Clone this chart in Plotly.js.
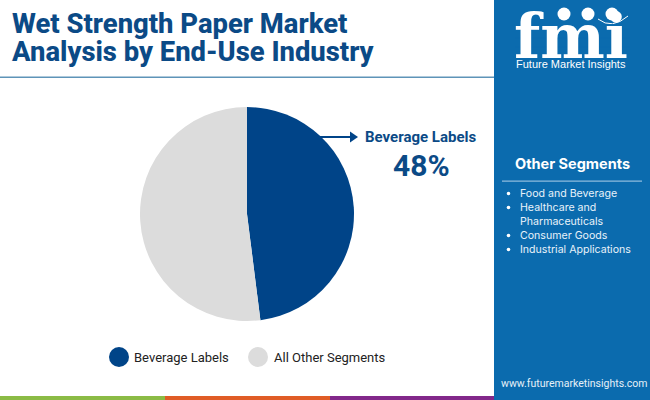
<!DOCTYPE html>
<html><head><meta charset="utf-8">
<script src="https://cdn.plot.ly/plotly-3.0.1.min.js"></script>
<style>html,body{margin:0;padding:0;background:#fff}#c{width:650px;height:400px}</style></head>
<body><div id="c"></div>
<script>
const categories = ["Beverage Labels", "All Other Segments"];
const shares = [48, 52];
const sliceColors = ["#004488", "#DCDCDC"];
const titleLines = ["Wet Strength Paper Market", "Analysis by End-Use Industry"];
const sideItems = ["Food and Beverage", "Healthcare and", "Pharmaceuticals", "Consumer Goods", "Industrial Applications"];
const W = 650, H = 400;
const px = v => v / W, py = v => 1 - v / H;
const rect = (x0, y0, x1, y1, color, layer) => ({type:"rect", xref:"paper", yref:"paper", layer:layer||"below",
  x0:px(x0), x1:px(x1), y0:py(y1), y1:py(y0), fillcolor:color, line:{width:0}});
const oval = (cx, cy, rx, ry, color) => ({type:"circle", xref:"paper", yref:"paper", layer:"above",
  x0:px(cx-rx), x1:px(cx+rx), y0:py(cy+ry), y1:py(cy-ry), fillcolor:color, line:{width:0}});
const txt = (x, y, text, size, color, family, anchor, weight) => ({xref:"paper", yref:"paper",
  x:px(x), y:py(y), text, showarrow:false, xanchor:anchor||"left", yanchor:"middle",
  font:{size, color, family, weight:weight||400}, borderpad:0});
const R = "Roboto, sans-serif", I = "Inter, 'Open Sans', sans-serif";
const navy = "#0B4A86", panel = "#0B6BAE";

const shapes = [
  rect(494, 0, 650, 400, panel),
  rect(0, 76.5, 494, 78, "#5E94B8"),
  rect(0, 396, 165, 400, "#8BBB45"),
  rect(165, 396, 330, 400, "#E05C26"),
  rect(330, 396, 494, 400, "#82288A"),
  rect(502, 180.5, 642, 181.8, "#8FBBDD"),
  oval(119, 357, 10, 10, "#004488"),
  oval(258, 357, 10, 10, "#DCDCDC"),
  {type:"line", xref:"paper", yref:"paper", x0:px(318), x1:px(352), y0:py(137), y1:py(137), line:{color:"#004488", width:1.8}},
  {type:"path", xref:"paper", yref:"paper", fillcolor:"#004488", line:{width:0},
   path:`M ${px(350)} ${py(131.5)} L ${px(358)} ${py(137)} L ${px(350)} ${py(142.5)} Z`},
  oval(564, 14, 6.5, 6.5, "#FFFFFF"), oval(588, 14, 6.5, 6.5, "#FFFFFF"), oval(612, 14, 6.5, 6.5, "#FFFFFF"),
  {type:"path", xref:"paper", yref:"paper", line:{color:"#FFFFFF", width:1}, fillcolor:"rgba(0,0,0,0)",
   path:`M ${px(598)} ${py(19)} Q ${px(612)} ${py(30)} ${px(628)} ${py(16)}`}
];
[24, 28.5, 33, 37.5, 42, 46.5, 51].forEach(y => shapes.push(rect(515, y, 630, y + 0.9, panel, "above")));

const annotations = [
  txt(10.5, 24, titleLines[0], 27.4, navy, R, "left", 800),
  txt(10.5, 52, titleLines[1], 27.4, navy, R, "left", 800),
  txt(421, 137, "Beverage Labels", 15, navy, R, "center", 700),
  txt(421, 165, "48%", 30, navy, R, "center", 700),
  txt(133, 357, categories[0], 13, "#222222", R),
  txt(273, 357, categories[1], 13, "#222222", R),
  txt(571, 36.5, "fmi", 61, "#FFFFFF", "'DejaVu Serif', serif", "center", 700),
  txt(571, 64, "Future Market Insights", 11, "#FFFFFF", "'Liberation Sans', sans-serif", "center"),
  txt(572, 164, "Other Segments", 14.5, "#FFFFFF", I, "center", 700),
  txt(574, 383, "www.futuremarketinsights.com", 10.5, "#E6F0F8", R, "center")
];
const itemY = [193.5, 207.5, 221.5, 235.5, 249.5];
sideItems.forEach((t, i) => annotations.push(txt(519, itemY[i], t, 10.6, "#E8F2FA", I)));
[0, 1, 3, 4].forEach(i => shapes.push(oval(508.5, itemY[i], 1.8, 1.8, "#FFFFFF")));

Plotly.newPlot("c", [{
  type:"pie", labels:categories, values:shares, sort:false, direction:"clockwise", rotation:0,
  marker:{colors:sliceColors, line:{width:0}}, textinfo:"none", hoverinfo:"label+percent",
  domain:{x:[px(140), px(354)], y:[py(321), py(107)]}, automargin:false
}], {
  width:W, height:H, margin:{l:0, r:0, t:0, b:0}, paper_bgcolor:"#FFFFFF", showlegend:false,
  shapes, annotations
}, {displayModeBar:false, staticPlot:true});
</script></body></html>
